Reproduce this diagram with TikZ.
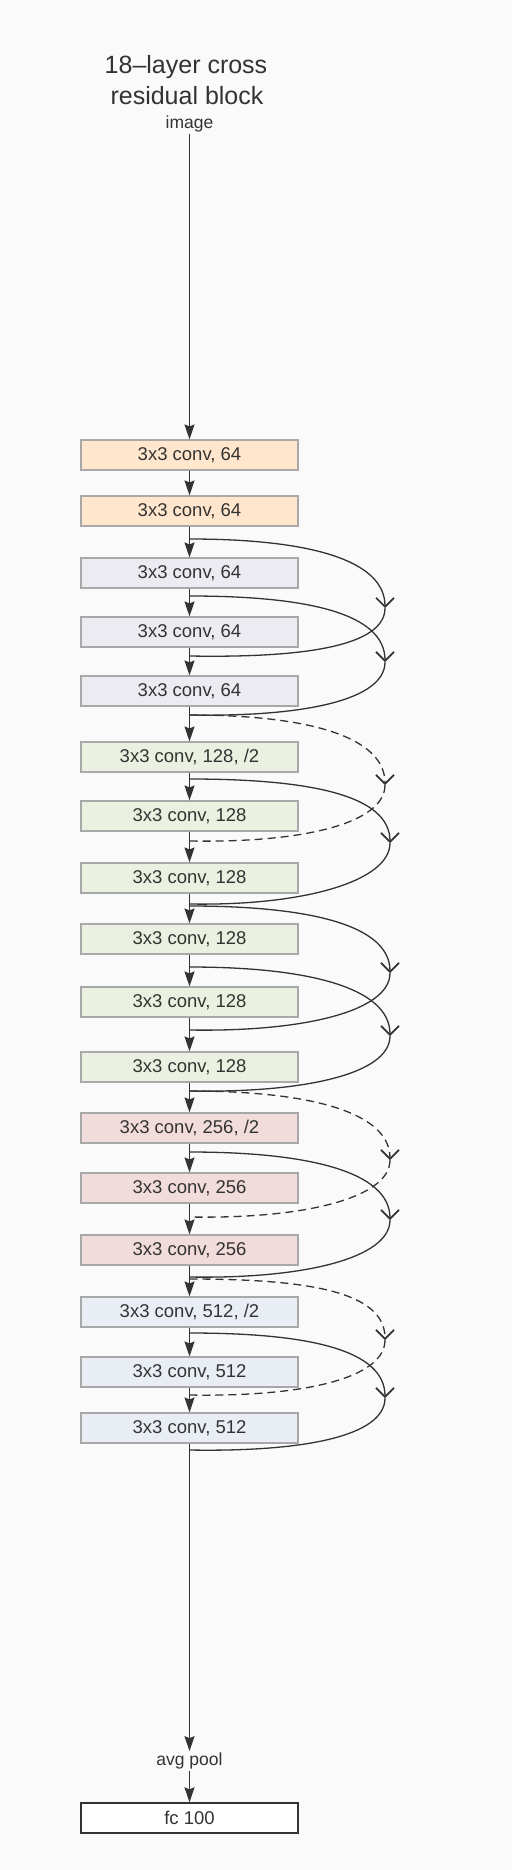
\documentclass[tikz,border=0pt]{standalone}
\usepackage{fontspec}
\setmainfont{Liberation Sans}
\usetikzlibrary{arrows.meta}
\definecolor{bg}{HTML}{FAFAFA}
\definecolor{txt}{HTML}{333333}
\definecolor{edge}{HTML}{333333}
\definecolor{bordergray}{HTML}{A8A8A8}
\definecolor{corange}{HTML}{FFE6CC}
\definecolor{clav}{HTML}{EDEBF2}
\definecolor{cgreen}{HTML}{EBF1E0}
\definecolor{cpink}{HTML}{F2DCDB}
\definecolor{cblue}{HTML}{E9EEF5}
\begin{document}
\begin{tikzpicture}[x=1pt,y=-1pt,
  layerbox/.style={draw=bordergray, line width=1.1pt, minimum width=217pt, minimum height=30pt, inner sep=0pt, font=\fontsize{18.5}{20}\selectfont, text=txt},
  orangebox/.style={layerbox, fill=corange},
  lavbox/.style={layerbox, fill=clav},
  greenbox/.style={layerbox, fill=cgreen},
  pinkbox/.style={layerbox, fill=cpink},
  bluebox/.style={layerbox, fill=cblue},
  fcbox/.style={layerbox, fill=white, draw=edge, line width=1.4pt},
  smalllabel/.style={font=\fontsize{17.5}{19}\selectfont, text=txt, inner sep=1.5pt},
  flow/.style={draw=edge, line width=1.5pt, -{Stealth[length=15pt,width=10pt,inset=2pt]}},
  skipline/.style={draw=edge, line width=1.3pt},
  skiptip/.style={skipline, -{Straight Barb[length=9pt,width=18pt,line width=1.7pt]}},
  skipdash/.style={dash pattern=on 8pt off 5pt}
]
\useasboundingbox (0,0) rectangle (512,1870);
\fill[bg] (0,0) rectangle (512,1870);

% title
\node[font=\fontsize{25}{30}\selectfont, text=txt, anchor=base, inner sep=0pt] (title1) at (186,74) {18–layer cross};
\node[font=\fontsize{25}{30}\selectfont, text=txt, anchor=base, inner sep=0pt] (title2) at (187,105) {residual block};
\node[smalllabel] (img) at (189.5,124) {image};

% layers
\node[orangebox] (b1) at (189.5,455) {3x3 conv, 64};
\node[orangebox] (b2) at (189.5,511) {3x3 conv, 64};
\node[lavbox] (b3) at (189.5,573) {3x3 conv, 64};
\node[lavbox] (b4) at (189.5,632) {3x3 conv, 64};
\node[lavbox] (b5) at (189.5,691) {3x3 conv, 64};
\node[greenbox] (b6) at (189.5,757) {3x3 conv, 128, /2};
\node[greenbox] (b7) at (189.5,816) {3x3 conv, 128};
\node[greenbox] (b8) at (189.5,878) {3x3 conv, 128};
\node[greenbox] (b9) at (189.5,939) {3x3 conv, 128};
\node[greenbox] (b10) at (189.5,1002) {3x3 conv, 128};
\node[greenbox] (b11) at (189.5,1067) {3x3 conv, 128};
\node[pinkbox] (b12) at (189.5,1128) {3x3 conv, 256, /2};
\node[pinkbox] (b13) at (189.5,1188) {3x3 conv, 256};
\node[pinkbox] (b14) at (189.5,1250) {3x3 conv, 256};
\node[bluebox] (b15) at (189.5,1312) {3x3 conv, 512, /2};
\node[bluebox] (b16) at (189.5,1372) {3x3 conv, 512};
\node[bluebox] (b17) at (189.5,1428) {3x3 conv, 512};
\node[smalllabel] (pool) at (189.5,1761) {avg pool};
\node[fcbox] (fc) at (189.5,1818) {fc 100};

% main flow
\draw[flow] (img) -- (b1);
\foreach \a/\b in {b1/b2,b2/b3,b3/b4,b4/b5,b5/b6,b6/b7,b7/b8,b8/b9,b9/b10,b10/b11,b11/b12,b12/b13,b13/b14,b14/b15,b15/b16,b16/b17}
  \draw[flow] (\a) -- (\b);
\draw[flow] (b17) -- (pool);
\draw[flow] (pool) -- (fc);

% skip connection coordinates: start, tip, end
\foreach \n/\ys/\yt/\ye/\xx in {1/539/608/656/385, 2/596/662/715/385, 3/715/785/841/385, 4/779/843/904/390, 5/906/973/1030/390, 6/967/1036/1091/390, 7/1091/1160/1217/390, 8/1152/1220/1277/390, 9/1279/1340/1395/385, 10/1333/1398/1450/385}{
  \coordinate (s\n) at (189.5,\ys);
  \coordinate (t\n) at (\xx,\yt);
  \coordinate (e\n) at (189.5,\ye);
}

% solid skips
\foreach \n in {1,2,4,5,6,8,10}{
  \draw[skiptip] (s\n) .. controls +(120,0) and +(0,-48) .. (t\n);
  \draw[skipline] (t\n) .. controls +(0,38) and +(115,2) .. (e\n);
}
% dashed skips
\foreach \n in {3,7,9}{
  \draw[skiptip, skipdash] (s\n) .. controls +(120,0) and +(0,-48) .. (t\n);
  \draw[skipline, skipdash] (t\n) .. controls +(0,38) and +(115,2) .. (e\n);
}
\end{tikzpicture}
\end{document}
